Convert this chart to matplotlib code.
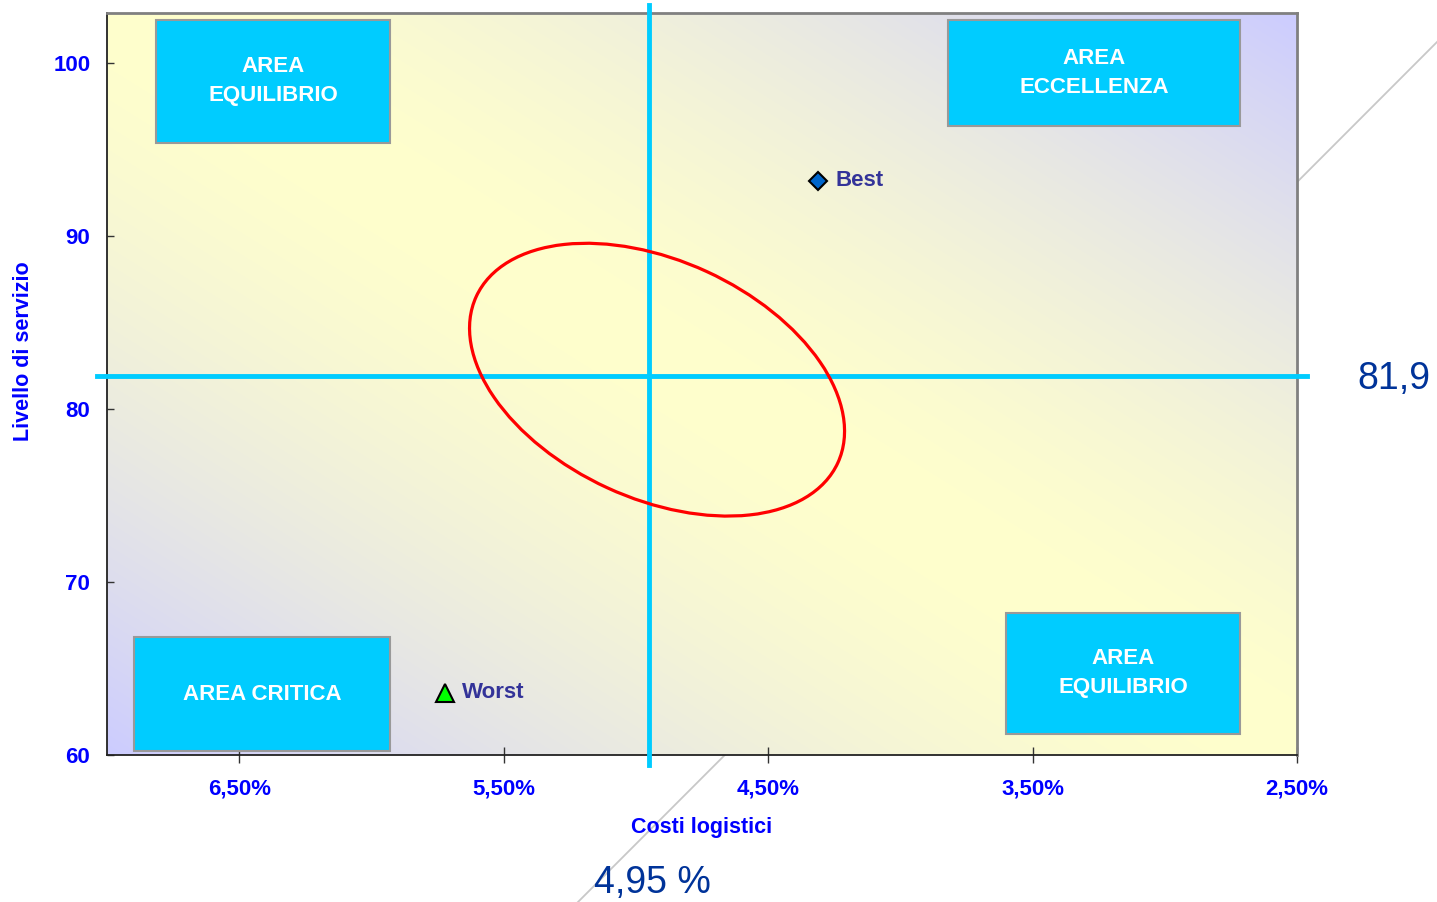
import numpy as np
import matplotlib
matplotlib.use("Agg")
import matplotlib.pyplot as plt
from matplotlib.patches import Ellipse, Rectangle
from matplotlib.lines import Line2D
from matplotlib.transforms import ScaledTranslation

plt.rcParams['font.family'] = ['Liberation Sans', 'DejaVu Sans']

# ---- data -------------------------------------------------------------
x_ticks = [6.5, 5.5, 4.5, 3.5, 2.5]
x_tick_labels = ["6,50%", "5,50%", "4,50%", "3,50%", "2,50%"]
y_ticks = [60, 70, 80, 90, 100]

point_names = ["Best", "Worst"]
point_costs = [4.31, 5.72]          # logistics cost, %
point_service = [93.2, 63.6]        # service level
point_markers = ["D", "^"]
point_colors = ["#0066CC", "#00FF00"]

avg_cost = 4.95
avg_service = 81.9
avg_cost_label = "4,95 %"
avg_service_label = "81,9"

quadrant_labels = ["AREA\nEQUILIBRIO", "AREA\nECCELLENZA",
                   "AREA CRITICA", "AREA\nEQUILIBRIO"]

cluster_center = (4.92, 81.7)

# ---- figure -----------------------------------------------------------
W, H = 1437, 902
fig = plt.figure(figsize=(W / 100, H / 100), dpi=100)
ax = fig.add_axes([107 / W, 147 / H, 1190 / W, 742 / H])

# diagonal two-colour background: yellow band along the anti-diagonal,
# lavender towards the lower-left and upper-right corners
n = 400
U, V = np.meshgrid(np.linspace(0, 1, n), np.linspace(0, 1, n))
t = (np.abs((U + V) / 2 - 0.5) * 2) ** 1.5
yellow = np.array([1.0, 1.0, 0.8])
lavender = np.array([0.8, 0.8, 1.0])
bg = yellow * (1 - t[..., None]) + lavender * t[..., None]
ax.imshow(bg, extent=[0, 1, 0, 1], transform=ax.transAxes, origin='lower',
          aspect='auto', zorder=0, interpolation='bilinear')

ax.set_xlim(7.0, 2.5)
ax.set_ylim(60, 102.9)

# ticks and labels
ax.set_xticks(x_ticks)
ax.set_xticklabels(x_tick_labels, fontsize=16, fontweight='bold', color='#0000FF')
ax.set_yticks(y_ticks)
ax.set_yticklabels([str(v) for v in y_ticks], fontsize=16, fontweight='bold',
                   color='#0000FF')
ax.tick_params(axis='x', direction='inout', length=11, width=1, color='#333333', pad=11.5)
ax.tick_params(axis='y', direction='in', length=5, width=1, color='#333333', pad=12)

ax.set_xlabel("Costi logistici", fontsize=15.5, fontweight='bold', color='#0000FF')
ax.xaxis.set_label_coords(0.5, -0.084)
ax.set_ylabel("Livello di servizio", fontsize=15.5, fontweight='bold', color='#0000FF')
ax.yaxis.set_label_coords(-0.0615, 0.544)

for side in ('left', 'bottom'):
    ax.spines[side].set_color('#222222')
    ax.spines[side].set_linewidth(1.3)
for side in ('top', 'right'):
    ax.spines[side].set_color('#808080')
    ax.spines[side].set_linewidth(2)

# average reference lines
ax.axvline(avg_cost, ymin=-0.0135, ymax=1.0108, color='#00CCFF', lw=3.5,
           clip_on=False, zorder=4)
ax.axhline(avg_service, xmin=-0.0084, xmax=1.0084, color='#00CCFF', lw=3.5,
           clip_on=False, zorder=4)

# quadrant boxes (axes fraction)
boxes = [(0.0412, 0.8248, 0.1966, 0.1658),
         (0.7067, 0.8477, 0.2454, 0.1429),
         (0.0227, 0.0054, 0.2151, 0.1536),
         (0.7555, 0.0283, 0.1966, 0.1631)]
for (x0, y0, w, h), label in zip(boxes, quadrant_labels):
    ax.add_patch(Rectangle((x0, y0), w, h, transform=ax.transAxes,
                           facecolor='#00CCFF', edgecolor='#999999', lw=1.5,
                           zorder=3))
    ax.text(x0 + w / 2, y0 + h / 2, label, transform=ax.transAxes,
            ha='center', va='center', color='white', fontsize=16,
            fontweight='bold', linespacing=1.5, zorder=4)

# cluster ellipse (semi-axes given in pixels, rotated)
ell = Ellipse((0, 0), width=2 * 199 / 100, height=2 * 119 / 100, angle=-24.7,
              transform=fig.dpi_scale_trans
              + ScaledTranslation(cluster_center[0], cluster_center[1], ax.transData),
              facecolor='none', edgecolor='#FF0000', lw=2.3, zorder=5)
ax.add_patch(ell)

# best / worst points
for name, cx, sy, mk, col in zip(point_names, point_costs, point_service,
                                 point_markers, point_colors):
    ms = 9.5 if mk == 'D' else 13
    ax.plot([cx], [sy], marker=mk, ms=ms, markerfacecolor=col,
            markeredgecolor='black', mew=1.5, linestyle='none', zorder=6)
    ax.annotate(name, (cx, sy), xytext=(12, 0), textcoords='offset points',
                ha='left', va='center', fontsize=16, fontweight='bold',
                color='#333399', zorder=6)

# value callouts outside the plot
fig.text(1394 / W, (H - 379) / H, avg_service_label, ha='center', va='center',
         fontsize=27, color='#003399')
fig.text(652 / W, (H - 883) / H, avg_cost_label, ha='center', va='center',
         fontsize=27, color='#003399')

# leader line running behind the plot area
fig.add_artist(Line2D([578 / W, 1.0], [0.0, (H - 42) / H], transform=fig.transFigure,
                      color='#C8C8C8', lw=1.3, zorder=-1))

fig.savefig("out.png", dpi=100)
